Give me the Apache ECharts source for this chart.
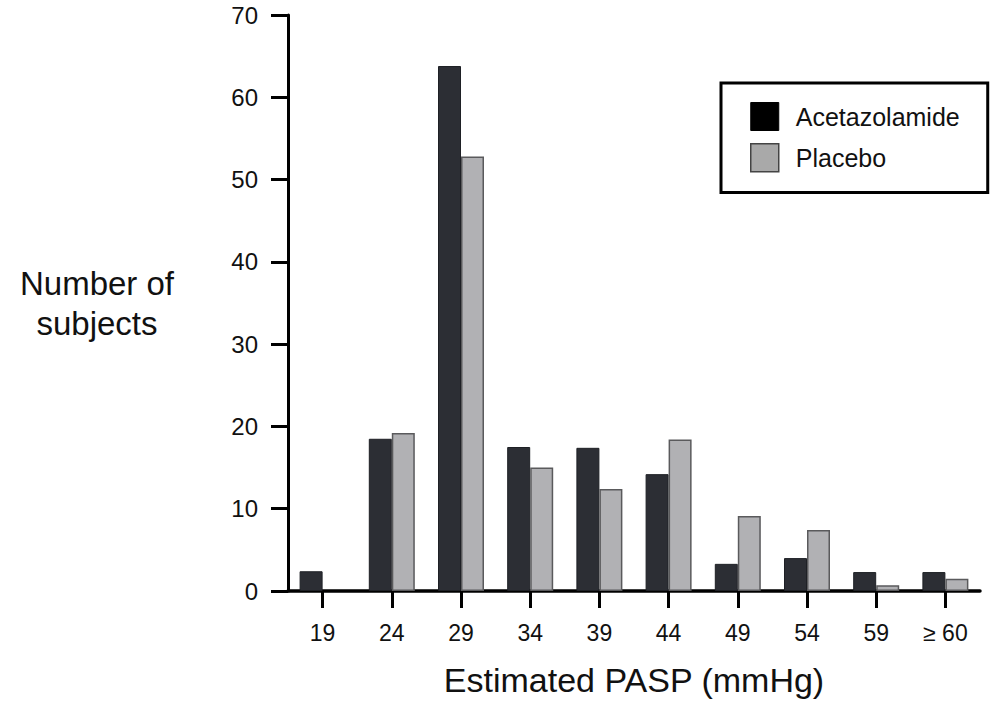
<!DOCTYPE html>
<html>
<head>
<meta charset="utf-8">
<script src="https://cdn.jsdelivr.net/npm/echarts@6/dist/echarts.min.js"></script>
<style>
  html, body { margin: 0; padding: 0; background: #fff; }
  #chart { width: 992px; height: 701px; }
</style>
</head>
<body>
<div id="chart"></div>
<script>
// Estimated PASP histogram, acetazolamide vs placebo
var categories = ['19', '24', '29', '34', '39', '44', '49', '54', '59', '\u2265 60'];
var acetazolamide = [2.4, 18.5, 63.8, 17.5, 17.4, 14.2, 3.3, 4.0, 2.3, 2.3];
var placebo = [0, 19.2, 52.8, 15.0, 12.4, 18.4, 9.1, 7.4, 0.7, 1.5];

var font = 'Liberation Sans, Arial, Helvetica, sans-serif';
var dark = '#2c2e34';
var light = '#b1b1b4';

// no bar drawn for an empty bin
function noZero(arr) {
  return arr.map(function(v) { return v === 0 ? null : v; });
}

var chart = echarts.init(document.getElementById('chart'), null, { renderer: 'svg' });
chart.setOption({
  animation: false,
  backgroundColor: '#fff',
  textStyle: { fontFamily: font },
  grid: { left: 288, right: 12, top: 15, bottom: 110, outerBoundsMode: 'none', containLabel: false },
  legend: {
    orient: 'vertical',
    left: 721, top: 83,
    padding: [19, 28, 20, 29],
    borderColor: '#000', borderWidth: 3, borderRadius: 0,
    itemWidth: 28, itemHeight: 28, itemGap: 12,
    icon: 'rect',
    textStyle: { color: '#111', fontSize: 25, fontFamily: font, padding: [0, 0, 0, 12] },
    data: [
      { name: 'Acetazolamide', itemStyle: { color: '#000', borderColor: '#000', borderWidth: 1 } },
      { name: 'Placebo', itemStyle: { color: '#a9a9a9', borderColor: '#444', borderWidth: 1.5 } }
    ]
  },
  xAxis: {
    type: 'category',
    data: categories,
    name: 'Estimated PASP (mmHg)',
    nameLocation: 'middle',
    nameGap: 72,
    nameTextStyle: { color: '#111', fontSize: 34, fontFamily: font },
    axisLine: { lineStyle: { color: '#000', width: 3.5 } },
    axisTick: { show: true, inside: false, alignWithLabel: true, length: 17, lineStyle: { color: '#000', width: 3 } },
    axisLabel: { color: '#111', fontSize: 23, margin: 30, fontFamily: font }
  },
  yAxis: {
    type: 'value',
    min: 0, max: 70, interval: 10,
    name: 'Number of\nsubjects',
    nameLocation: 'middle',
    nameRotate: 0,
    nameGap: 191,
    nameTextStyle: { color: '#111', fontSize: 33, lineHeight: 40, align: 'center', fontFamily: font },
    axisLine: { show: true, lineStyle: { color: '#000', width: 3 } },
    axisTick: { show: true, length: 17, lineStyle: { color: '#000', width: 3 } },
    axisLabel: { color: '#111', fontSize: 24, margin: 30, fontFamily: font },
    splitLine: { show: false }
  },
  series: [
    {
      name: 'Acetazolamide',
      type: 'bar',
      data: noZero(acetazolamide),
      barWidth: 23,
      barGap: '0%',
      itemStyle: { color: dark, borderColor: '#1e2025', borderWidth: 1 }
    },
    {
      name: 'Placebo',
      type: 'bar',
      data: noZero(placebo),
      barWidth: 23,
      barGap: '0%',
      itemStyle: { color: light, borderColor: '#5a5a5c', borderWidth: 1.5 }
    }
  ]
});
window.addEventListener('resize', function() { chart.resize(); });
</script>
</body>
</html>
